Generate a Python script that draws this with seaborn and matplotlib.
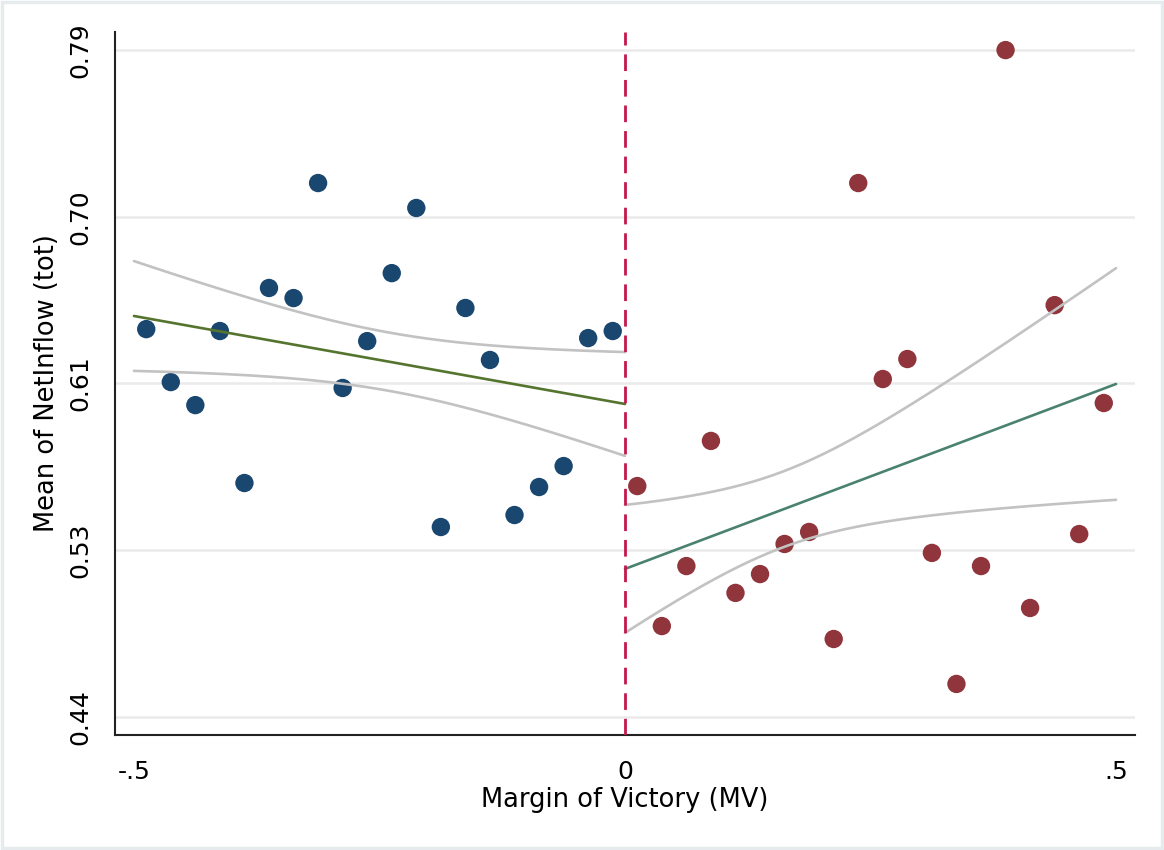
import numpy as np
import pandas as pd
import seaborn as sns
import matplotlib.pyplot as plt
from matplotlib.patches import Rectangle

# ---- data ----
mv_left = [-0.4875, -0.4625, -0.4375, -0.4125, -0.3875, -0.3625, -0.3375, -0.3125,
           -0.2875, -0.2625, -0.2375, -0.2125, -0.1875, -0.1625, -0.1375, -0.1125,
           -0.0875, -0.0625, -0.0375, -0.0125]
mean_left = [0.6435, 0.6157, 0.6036, 0.6425, 0.5627, 0.6651, 0.6598, 0.7202,
             0.6126, 0.6372, 0.6729, 0.7071, 0.5396, 0.6546, 0.6273, 0.5459,
             0.5606, 0.5716, 0.6388, 0.6425]
mv_right = [0.0125, 0.0375, 0.0625, 0.0875, 0.1125, 0.1375, 0.1625, 0.1875,
            0.2125, 0.2375, 0.2625, 0.2875, 0.3125, 0.3375, 0.3625, 0.3875,
            0.4125, 0.4375, 0.4625, 0.4875]
mean_right = [0.5611, 0.4876, 0.5191, 0.5848, 0.5050, 0.5149, 0.5307, 0.5370,
              0.4808, 0.7202, 0.6173, 0.6278, 0.5260, 0.4572, 0.5191, 0.7900,
              0.4971, 0.6561, 0.5359, 0.6047]

# linear fits: (x0, y0, x1, y1) and CI half-width parameters (h0, k, centre)
fit_left = [-0.5, 0.6504, 0.0, 0.6042]
ci_left = [0.0153, 0.094, -0.24]
fit_right = [0.0, 0.5176, 0.5, 0.6147]
ci_right = [0.0199, 0.169, 0.16]

y_ticks = [0.44, 0.5275, 0.615, 0.7025, 0.79]
y_labels = ["0.44", "0.53", "0.61", "0.70", "0.79"]
x_ticks = [-0.5, 0.0, 0.5]
x_labels = ["-.5", "0", ".5"]
cutoff = 0.0

sns.set_style("white")
plt.rcParams['font.family'] = ['DejaVu Sans']

fig = plt.figure(figsize=(11.64, 8.5), dpi=100)
fig.patch.set_facecolor("white")
ax = fig.add_axes([115/1164, 1-735/850, (1135-115)/1164, (735-32)/850])
ax.set_facecolor("white")

df_l = pd.DataFrame({"mv": mv_left, "m": mean_left})
df_r = pd.DataFrame({"mv": mv_right, "m": mean_right})
sns.scatterplot(data=df_l, x="mv", y="m", ax=ax, color="#1a476f", s=175,
                edgecolor="none", zorder=3)
sns.scatterplot(data=df_r, x="mv", y="m", ax=ax, color="#90353b", s=175,
                edgecolor="none", zorder=3)


def fit_frame(fit, ci):
    x0, y0, x1, y1 = fit
    h0, k, c = ci
    xs = np.linspace(x0, x1, 200)
    yhat = y0 + (y1 - y0) * (xs - x0) / (x1 - x0)
    hw = np.sqrt(h0**2 + k**2 * (xs - c)**2)
    return pd.DataFrame({"x": xs, "fit": yhat, "lo": yhat - hw, "hi": yhat + hw})


fl = fit_frame(fit_left, ci_left)
fr = fit_frame(fit_right, ci_right)
for d, col in [(fl, "#55752f"), (fr, "#4a8270")]:
    sns.lineplot(data=d, x="x", y="hi", ax=ax, color="#c2c2c2", lw=1.9, zorder=4)
    sns.lineplot(data=d, x="x", y="lo", ax=ax, color="#c2c2c2", lw=1.9, zorder=4)
    sns.lineplot(data=d, x="x", y="fit", ax=ax, color=col, lw=1.9, zorder=5)

ax.axvline(cutoff, color="#c4174b", lw=2.0, linestyle=(0, (6, 3.2)), zorder=6)

ax.set_xlim(-0.5193, 0.5193)
ax.set_ylim(0.4304, 0.7995)
ax.set_yticks(y_ticks)
ax.set_yticklabels(y_labels, rotation=90, va="center")
ax.set_xticks(x_ticks)
ax.set_xticklabels(x_labels)
ax.yaxis.grid(True, color="#eaeaea", lw=1.8)
ax.xaxis.grid(False)
ax.set_axisbelow(True)

for s in ["top", "right"]:
    ax.spines[s].set_visible(False)
for s in ["left", "bottom"]:
    ax.spines[s].set_color("#222222")
    ax.spines[s].set_linewidth(1.5)

ax.tick_params(axis="both", which="major", direction="out", length=8, width=1.3,
               color="#222222", labelsize=18, labelcolor="black")
ax.tick_params(axis="y", pad=8)
ax.tick_params(axis="x", pad=10)
ax.set_xlabel("Margin of Victory (MV)", fontsize=18.5, labelpad=2, color="black")
ax.set_ylabel("Mean of NetInflow (tot)", fontsize=18.5, labelpad=6, color="black")

fig.patches.append(Rectangle((0.002, 0.002), 0.996, 0.996, transform=fig.transFigure,
                             fill=False, edgecolor="#e6eced", lw=2.5))

fig.savefig("out.png", dpi=100, facecolor="white")
